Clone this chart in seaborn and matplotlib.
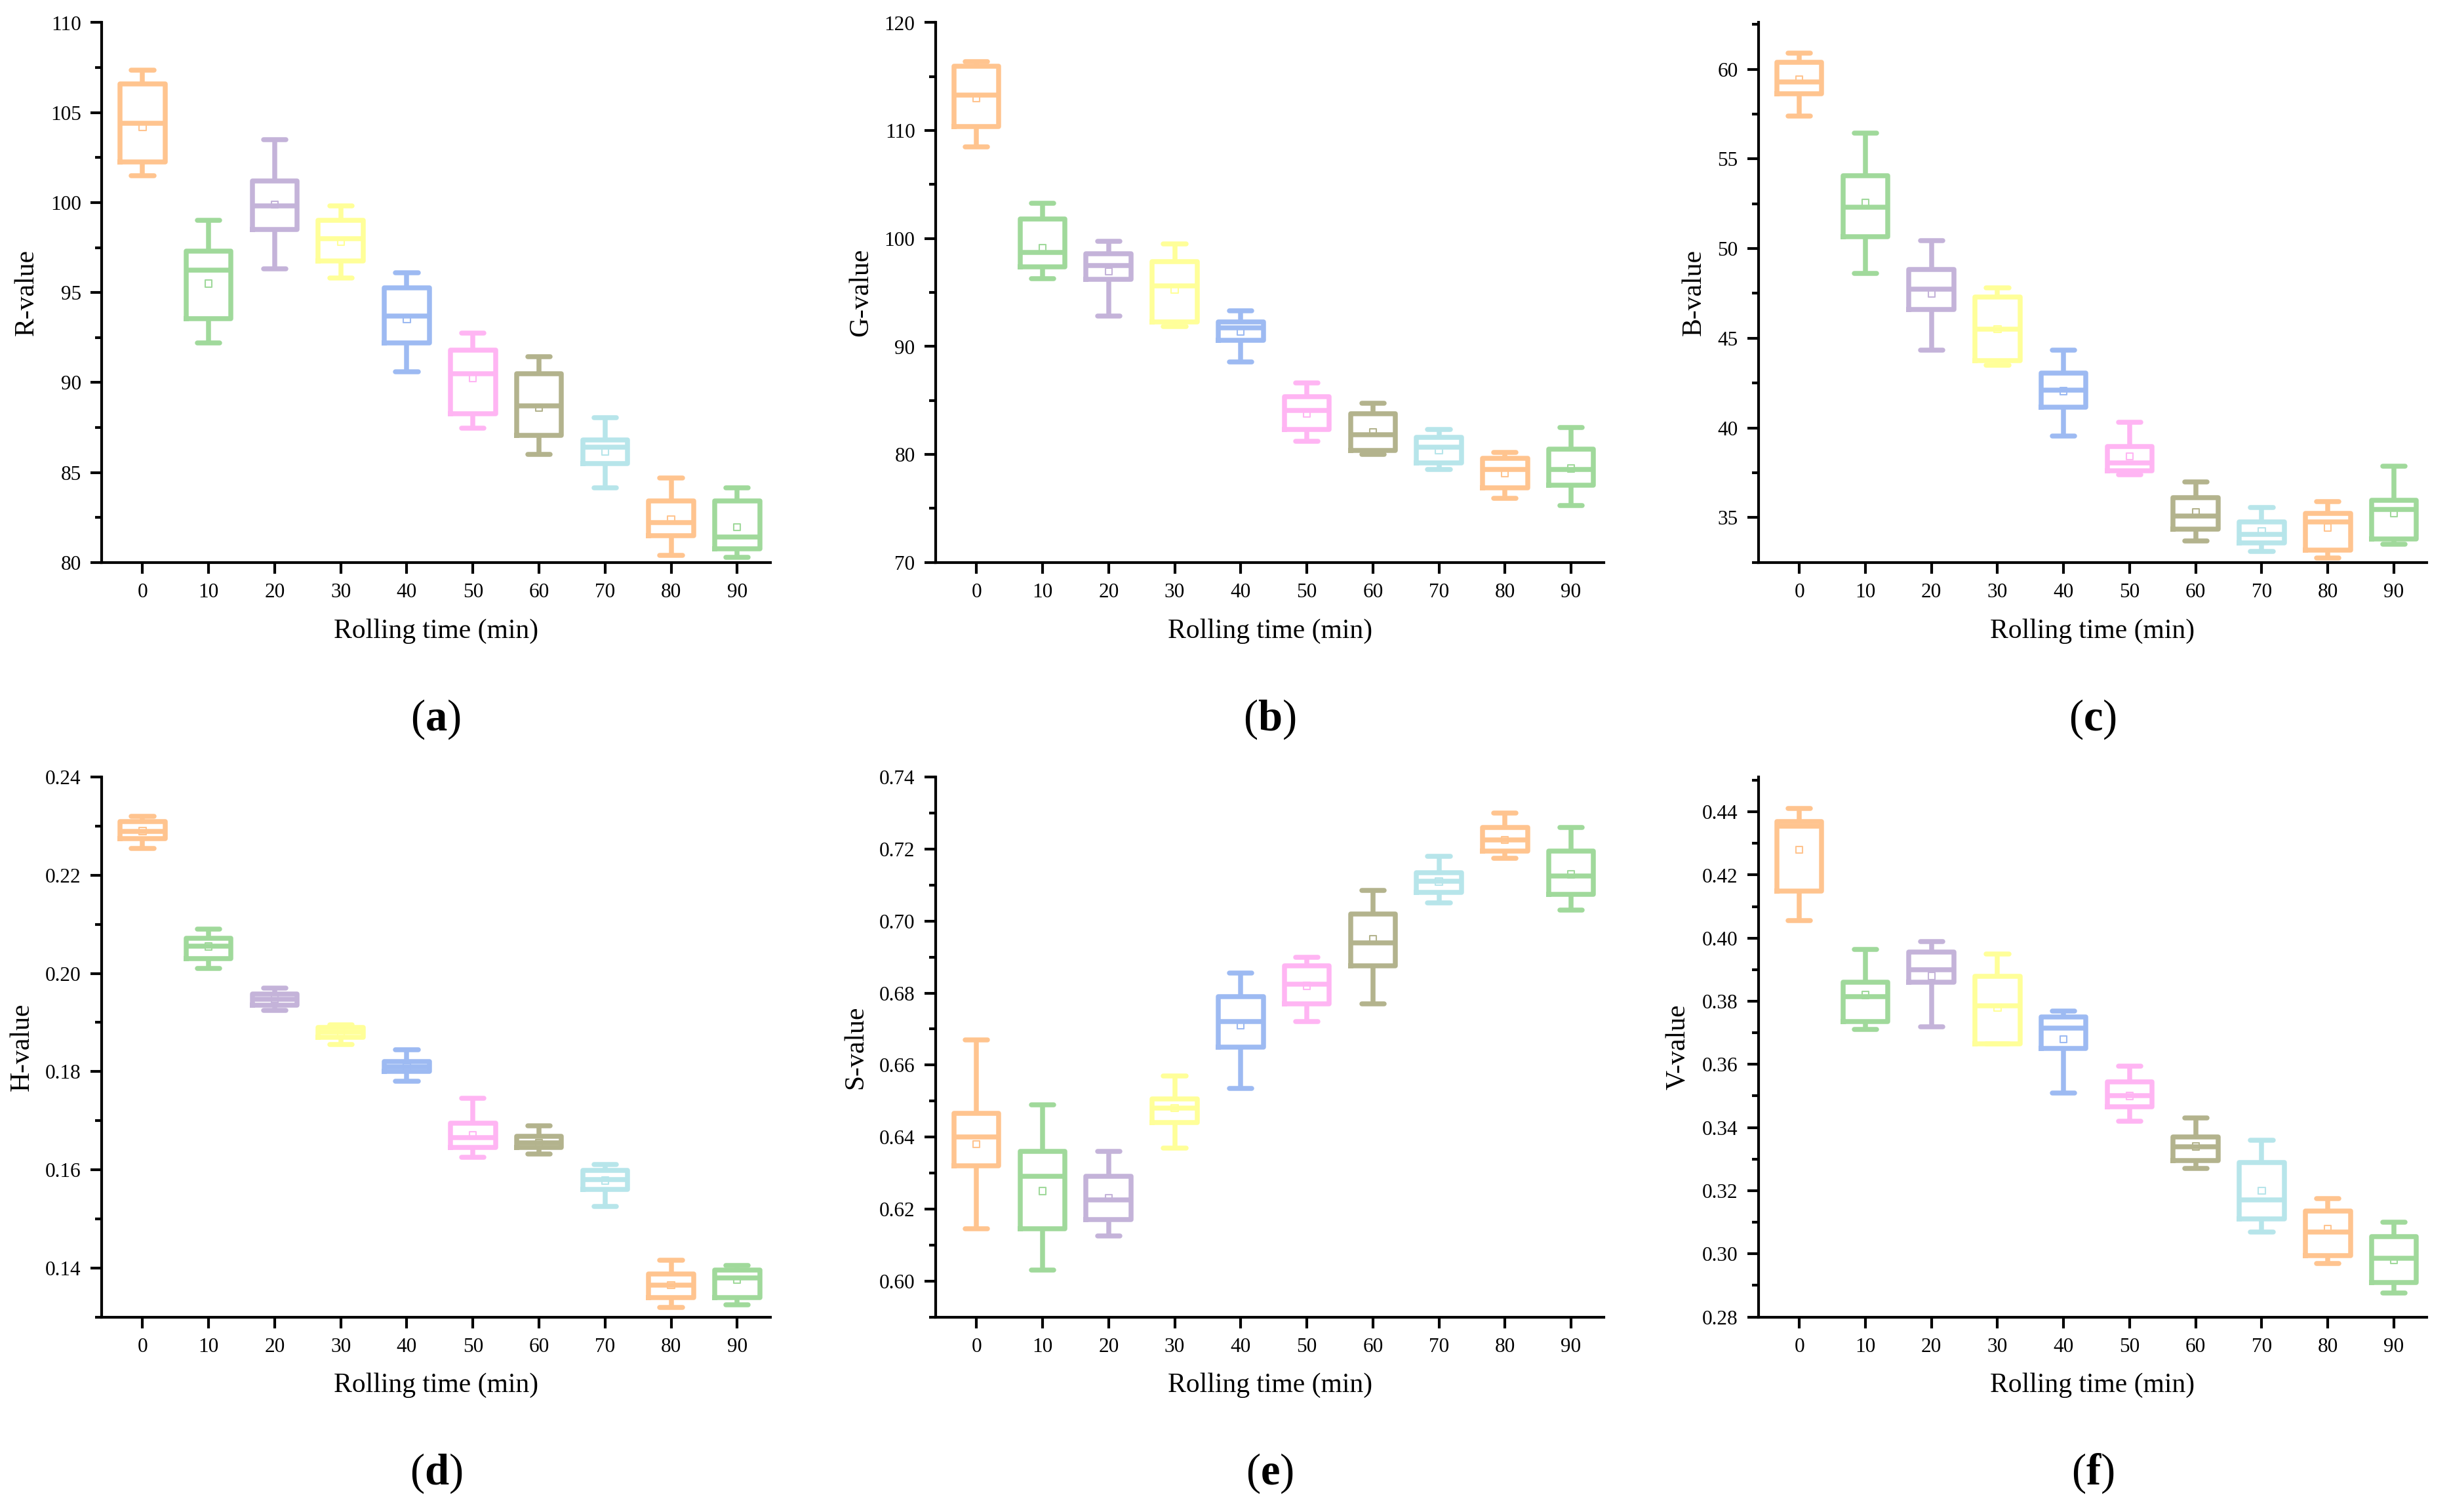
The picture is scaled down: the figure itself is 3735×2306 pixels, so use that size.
import numpy as np
import pandas as pd
import matplotlib
matplotlib.use("Agg")
import matplotlib.pyplot as plt
import seaborn as sns
from matplotlib.ticker import MultipleLocator, AutoMinorLocator

times = ["0", "10", "20", "30", "40", "50", "60", "70", "80", "90"]
colors = ["#FFC48F", "#A0D99B", "#C4B3D9", "#FFFF99", "#9DBAF2",
          "#FFB5F3", "#B3B38D", "#B7E5EA", "#FFC48F", "#A0D99B"]

# each box: [whisker low, Q1, median, Q3, whisker high]
R_box = [[101.5, 102.25, 104.4, 106.6, 107.35], [92.2, 93.55, 96.25, 97.3, 99.0],
         [96.3, 98.5, 99.8, 101.2, 103.5], [95.8, 96.75, 98.0, 99.0, 99.8],
         [90.6, 92.2, 93.7, 95.25, 96.1], [87.45, 88.25, 90.5, 91.8, 92.75],
         [86.0, 87.05, 88.7, 90.5, 91.45], [84.15, 85.5, 86.4, 86.8, 88.05],
         [80.4, 81.5, 82.2, 83.4, 84.7], [80.3, 80.75, 81.4, 83.4, 84.15]]
R_mean = [104.2, 95.5, 99.9, 97.8, 93.5, 90.25, 88.6, 86.15, 82.4, 81.95]

G_box = [[108.5, 110.4, 113.3, 115.95, 116.4], [96.3, 97.35, 98.7, 101.8, 103.25],
         [92.8, 96.2, 97.5, 98.6, 99.75], [91.85, 92.3, 95.6, 97.85, 99.5],
         [88.6, 90.6, 91.75, 92.3, 93.3], [81.2, 82.3, 84.05, 85.35, 86.6],
         [80.0, 80.4, 81.8, 83.75, 84.75], [78.6, 79.2, 80.65, 81.6, 82.3],
         [75.95, 76.9, 78.6, 79.65, 80.2], [75.3, 77.15, 78.6, 80.5, 82.5]]
G_mean = [113.0, 99.15, 96.95, 95.25, 91.35, 83.75, 82.05, 80.35, 78.25, 78.7]

B_box = [[57.4, 58.65, 59.3, 60.4, 60.9], [48.6, 50.65, 52.3, 54.05, 56.45],
         [44.35, 46.6, 47.75, 48.85, 50.45], [43.5, 43.75, 45.5, 47.3, 47.8],
         [39.55, 41.15, 42.1, 43.05, 44.35], [37.4, 37.6, 38.05, 38.95, 40.3],
         [33.7, 34.35, 35.1, 36.1, 37.0], [33.1, 33.6, 34.05, 34.75, 35.55],
         [32.75, 33.2, 34.75, 35.25, 35.9], [33.5, 33.8, 35.45, 35.95, 37.85]]
B_mean = [59.45, 52.55, 47.5, 45.5, 42.05, 38.4, 35.3, 34.25, 34.45, 35.25]

H_box = [[0.2255, 0.2275, 0.229, 0.231, 0.232], [0.201, 0.203, 0.2055, 0.2072, 0.209],
         [0.1925, 0.1935, 0.1948, 0.1958, 0.197], [0.1855, 0.187, 0.188, 0.189, 0.1895],
         [0.178, 0.180, 0.181, 0.182, 0.1845], [0.1625, 0.1645, 0.1665, 0.1695, 0.1745],
         [0.1632, 0.1645, 0.1655, 0.1668, 0.169], [0.1525, 0.156, 0.158, 0.1598, 0.161],
         [0.132, 0.134, 0.1365, 0.1388, 0.1415], [0.1325, 0.134, 0.138, 0.1395, 0.1405]]
H_mean = [0.229, 0.2055, 0.1948, 0.188, 0.181, 0.167, 0.1655, 0.1578, 0.1365, 0.1375]

S_box = [[0.6145, 0.632, 0.640, 0.6465, 0.667], [0.603, 0.6145, 0.629, 0.636, 0.649],
         [0.6125, 0.617, 0.6225, 0.629, 0.636], [0.637, 0.644, 0.648, 0.6505, 0.657],
         [0.6535, 0.665, 0.672, 0.679, 0.6855], [0.672, 0.677, 0.6825, 0.6875, 0.690],
         [0.677, 0.6875, 0.694, 0.702, 0.7085], [0.705, 0.708, 0.711, 0.7135, 0.718],
         [0.7175, 0.7195, 0.7225, 0.726, 0.730], [0.703, 0.7075, 0.7125, 0.7195, 0.726]]
S_mean = [0.638, 0.625, 0.623, 0.648, 0.671, 0.682, 0.695, 0.711, 0.7225, 0.713]

V_box = [[0.4055, 0.415, 0.4355, 0.437, 0.441], [0.371, 0.3735, 0.3815, 0.386, 0.3965],
         [0.372, 0.386, 0.390, 0.3955, 0.399], [0.3665, 0.3665, 0.3785, 0.388, 0.395],
         [0.351, 0.365, 0.3715, 0.375, 0.377], [0.342, 0.3465, 0.350, 0.3545, 0.3595],
         [0.327, 0.3295, 0.334, 0.337, 0.343], [0.307, 0.311, 0.317, 0.329, 0.336],
         [0.297, 0.2995, 0.307, 0.3135, 0.3175], [0.2875, 0.291, 0.2985, 0.3055, 0.310]]
V_mean = [0.428, 0.382, 0.388, 0.378, 0.368, 0.350, 0.334, 0.320, 0.308, 0.298]

panels = [
    ("R-value", R_box, R_mean, (80, 110), 5, "(a)"),
    ("G-value", G_box, G_mean, (70, 120), 10, "(b)"),
    ("B-value", B_box, B_mean, (32.5, 62.6), 5, "(c)"),
    ("H-value", H_box, H_mean, (0.13, 0.24), 0.02, "(d)"),
    ("S-value", S_box, S_mean, (0.59, 0.74), 0.02, "(e)"),
    ("V-value", V_box, V_mean, (0.28, 0.451), 0.02, "(f)"),
]

plt.rcParams["font.family"] = "Liberation Serif"
plt.rcParams["mathtext.fontset"] = "custom"
plt.rcParams["mathtext.bf"] = "Liberation Serif:bold"
fig = plt.figure(figsize=(12.45, 7.687), dpi=300)

lefts = [0.0415, 0.382, 0.718]
width = 0.273
bottoms = [0.628, 0.129]
height = 0.357

for i, (ylabel, boxes, means, ylim, step, tag) in enumerate(panels):
    r, c = divmod(i, 3)
    ax = fig.add_axes([lefts[c], bottoms[r], width, height])
    rows = []
    for t, vals in zip(times, boxes):
        for v in vals:
            rows.append({"t": t, "v": v})
    df = pd.DataFrame(rows)
    sns.boxplot(data=df, x="t", y="v", hue="t", order=times, hue_order=times,
                palette=colors, fill=False, whis=(0, 100), width=0.68,
                linewidth=1.8, showfliers=False, legend=False, ax=ax,
                capprops={"solid_capstyle": "round"})
    for j, m in enumerate(means):
        ax.scatter([j], [m], marker="s", s=6, facecolors="none",
                   edgecolors=colors[j], linewidths=0.5, zorder=5)
    ax.set_ylim(*ylim)
    ax.set_xlim(-0.62, 9.5)
    ax.yaxis.set_major_locator(MultipleLocator(step))
    ax.yaxis.set_minor_locator(AutoMinorLocator(2))
    if step < 1:
        ax.yaxis.set_major_formatter(matplotlib.ticker.FormatStrFormatter("%.2f"))
    for s in ["top", "right"]:
        ax.spines[s].set_visible(False)
    for s in ["left", "bottom"]:
        ax.spines[s].set_linewidth(1.0)
    ax.tick_params(axis="both", which="major", direction="out", length=4, width=1.0, labelsize=7.5)
    ax.tick_params(axis="y", which="minor", direction="out", length=2.5, width=1.0)
    ax.set_xlabel("Rolling time (min)", fontsize=10, labelpad=6)
    ax.set_ylabel(ylabel, fontsize=10, labelpad=4)
    ax.text(0.5, -0.29, "(" + r"$\mathbf{" + tag[1] + "}$" + ")", transform=ax.transAxes,
            ha="center", va="center", fontsize=16)

fig.savefig("out.png", dpi=300, facecolor="white")
